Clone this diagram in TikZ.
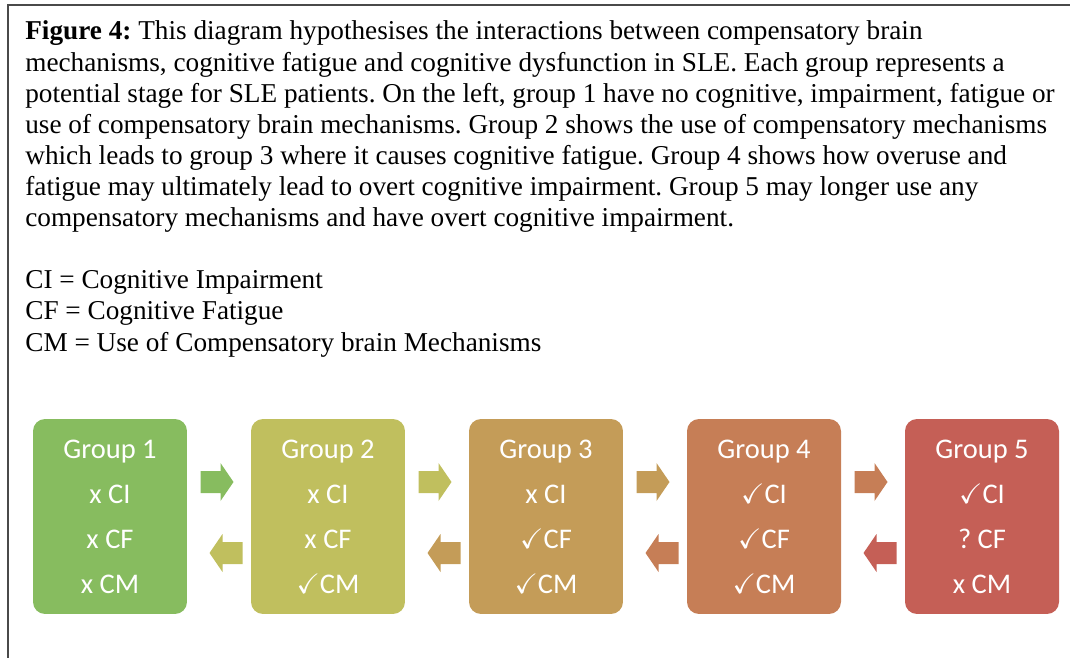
\documentclass[tikz,border=0pt]{standalone}
\usepackage{fontspec}
\usepackage{amssymb}
\usepackage{tikz}
\usetikzlibrary{calc}
\setmainfont{Liberation Serif}
\newfontfamily\groupfont{Carlito}
\definecolor{grp1}{HTML}{87BC5F}
\definecolor{grp2}{HTML}{C0BF5E}
\definecolor{grp3}{HTML}{C49C58}
\definecolor{grp4}{HTML}{C67E56}
\definecolor{grp5}{HTML}{C55F56}
\definecolor{framegray}{HTML}{4A4A4A}
\newcommand{\ck}{{\fontsize{16}{16}\selectfont$\checkmark$}}
\frenchspacing

\begin{document}
\begin{tikzpicture}[x=0.02cm, y=-0.02cm,
    captxt/.style={anchor=base west, inner sep=0pt, font={\fontsize{15.5}{18}\selectfont}},
    grpbox/.style={rounded corners=0.24cm, minimum width=3.08cm, minimum height=3.9cm,
      inner sep=0pt, text=white, align=center, font={\groupfont\fontsize{16.2}{25.6}\selectfont}},
    barrow/.pic={\path[pic actions] (-16.5,-11) -- (3.5,-11) -- (3.5,-19) -- (16.5,0)
      -- (3.5,19) -- (3.5,11) -- (-16.5,11) -- cycle;}]
  \useasboundingbox (0,0) rectangle (1070,658);
  % Frame (only top and left edges show)
  \draw[framegray, line width=0.05cm] (1070,5) -- (8,5) -- (8,658);
  % Caption
  \foreach \yy/\txt [count=\n] in {
      40/{\textbf{Figure 4:} This diagram hypothesises the interactions between compensatory brain},
      71.1/{mechanisms, cognitive fatigue and cognitive dysfunction in SLE. Each group represents a},
      102.2/{potential stage for SLE patients. On the left, group 1 have no cognitive, impairment, fatigue or},
      133.3/{use of compensatory brain mechanisms. Group 2 shows the use of compensatory mechanisms},
      164.4/{which leads to group 3 where it causes cognitive fatigue. Group 4 shows how overuse and},
      195.5/{fatigue may ultimately lead to overt cognitive impairment. Group 5 may longer use any},
      226.6/{compensatory mechanisms and have overt cognitive impairment.},
      288.8/{CI = Cognitive Impairment},
      319.9/{CF = Cognitive Fatigue},
      351/{CM = Use of Compensatory brain Mechanisms}}
    \node[captxt] (cap\n) at (25,\yy) {\txt};
  % Groups
  \foreach \i/\a/\b/\c in {1/x CI/x CF/x CM, 2/x CI/x CF/\ck CM, 3/x CI/\ck CF/\ck CM,
      4/\ck CI/\ck CF/\ck CM, 5/\ck CI/? CF/x CM}
    \node[grpbox, fill=grp\i] (g\i) at (110+218*\i-218,516.5) {Group \i\\\a\\\b\\\c};
  % Arrows between groups
  \foreach \i [evaluate=\i as \j using int(\i+1)] in {1,...,4} {
    \pic[fill=grp\i] (fwd\i) at ($(g\i.east)!0.5!(g\j.west)+(-2,-34.5)$) {barrow};
    \pic[fill=grp\j, rotate=180] (back\i) at ($(g\i.east)!0.5!(g\j.west)+(7,36.5)$) {barrow};
  }
\end{tikzpicture}
\end{document}
